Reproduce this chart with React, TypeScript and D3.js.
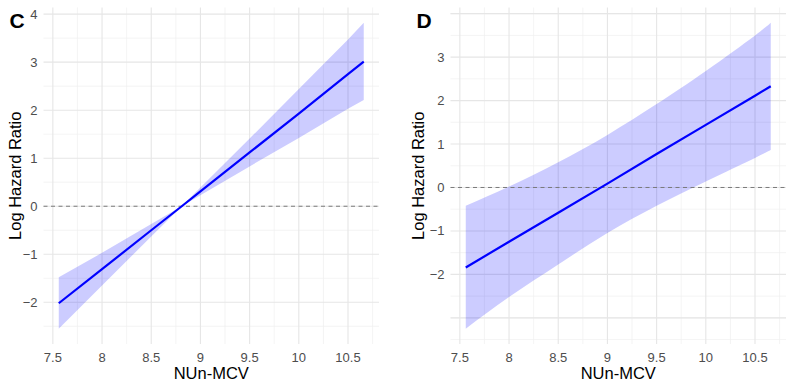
import React from "react";
import * as d3 from "d3";

// Panel C: log hazard ratio vs NUn-MCV (linear fit with 95% CI)
const nunMcvC = [7.56, 8.0, 8.5, 8.81, 9.0, 9.5, 10.0, 10.5, 10.66];
const fitC = [-2.02, -1.31, -0.5, 0, 0.31, 1.12, 1.93, 2.75, 3.01];
const lowerC = [-2.55, -1.65, -0.63, 0, 0.23, 0.83, 1.42, 2.03, 2.21];
const upperC = [-1.48, -0.97, -0.37, 0, 0.39, 1.41, 2.44, 3.47, 3.82];

// Panel D
const nunMcvD = [7.56, 8.0, 8.5, 9.0, 9.5, 10.0, 10.5, 10.66];
const fitD = [-1.84, -1.25, -0.58, 0.09, 0.77, 1.44, 2.11, 2.33];
const lowerD = [-3.25, -2.52, -1.77, -1.05, -0.42, 0.14, 0.68, 0.86];
const upperD = [-0.42, 0.02, 0.58, 1.21, 1.92, 2.68, 3.5, 3.79];

const xTicks = [7.5, 8, 8.5, 9, 9.5, 10, 10.5];
const xTickLabels = ["7.5", "8", "8.5", "9", "9.5", "10", "10.5"];
const yTicksC = [-2, -1, 0, 1, 2, 3, 4];
const yTicksD = [-2, -1, 0, 1, 2, 3];

const FONT = "'Liberation Sans', Arial, Helvetica, sans-serif";

type PanelProps = {
  tag: string;
  xs: number[];
  fit: number[];
  lo: number[];
  hi: number[];
  yTicks: number[];
  left: number;
  right: number;
  top: number;
  bottom: number;
  tagX: number;
  yTitleX: number;
  smooth: boolean;
};

function expand(ext: [number, number], f = 0.05): [number, number] {
  const d = (ext[1] - ext[0]) * f;
  return [ext[0] - d, ext[1] + d];
}

function Panel(p: PanelProps) {
  const xDom = expand(d3.extent(p.xs) as [number, number]);
  const yDom = expand([d3.min(p.lo) as number, d3.max(p.hi) as number]);
  const x = d3.scaleLinear().domain(xDom).range([p.left, p.right]);
  const y = d3.scaleLinear().domain(yDom).range([p.bottom, p.top]);

  const rows = p.xs.map((v, i) => ({ x: v, f: p.fit[i], l: p.lo[i], h: p.hi[i] }));
  const curve = p.smooth ? d3.curveNatural : d3.curveLinear;
  const area = d3
    .area<(typeof rows)[number]>()
    .x((d) => x(d.x))
    .y0((d) => y(d.l))
    .y1((d) => y(d.h))
    .curve(curve);
  const line = d3
    .line<(typeof rows)[number]>()
    .x((d) => x(d.x))
    .y((d) => y(d.f));

  // minor grid: halfway between major breaks, extended one step beyond
  const xMinor = d3.range(7.25, 11.0, 0.5).filter((v) => v >= xDom[0] && v <= xDom[1]);
  const yMinor = d3.range(-3.5, 5.0, 0.5).filter(
    (v) => v >= yDom[0] && v <= yDom[1] && !p.yTicks.includes(v)
  );
  const yMajorAll = d3.range(-4, 6, 1).filter((v) => v >= yDom[0] && v <= yDom[1]);

  return (
    <g>
      {/* grid */}
      {xMinor.map((v) => (
        <line key={"xm" + v} x1={x(v)} x2={x(v)} y1={p.top} y2={p.bottom} stroke="#efefef" strokeWidth={0.7} />
      ))}
      {yMinor.map((v) => (
        <line key={"ym" + v} x1={p.left} x2={p.right} y1={y(v)} y2={y(v)} stroke="#efefef" strokeWidth={0.7} />
      ))}
      {xTicks.map((v) => (
        <line key={"xM" + v} x1={x(v)} x2={x(v)} y1={p.top} y2={p.bottom} stroke="#e6e6e6" strokeWidth={1.1} />
      ))}
      {yMajorAll.map((v) => (
        <line key={"yM" + v} x1={p.left} x2={p.right} y1={y(v)} y2={y(v)} stroke="#e6e6e6" strokeWidth={1.1} />
      ))}

      {/* confidence band and fit */}
      <path d={area(rows) || ""} fill="#0000ff" fillOpacity={0.2} />
      <line x1={p.left} x2={p.right} y1={y(0)} y2={y(0)} stroke="#7a7a7a" strokeWidth={1} strokeDasharray="4,3.5" />
      <path d={line(rows) || ""} fill="none" stroke="#0000ff" strokeWidth={2.2} />

      {/* axis labels */}
      {xTicks.map((v, i) => (
        <text key={"xt" + v} x={x(v)} y={362} textAnchor="middle" fontSize={13} fill="#4d4d4d" fontFamily={FONT}>
          {xTickLabels[i]}
        </text>
      ))}
      {p.yTicks.map((v) => (
        <text key={"yt" + v} x={p.left - 6} y={y(v) + 4.5} textAnchor="end" fontSize={13} fill="#4d4d4d" fontFamily={FONT}>
          {v < 0 ? "\u2212" + Math.abs(v) : String(v)}
        </text>
      ))}
      <text x={(p.left + p.right) / 2} y={379} textAnchor="middle" fontSize={16.5} fill="#000" fontFamily={FONT}>
        NUn-MCV
      </text>
      <text
        transform={`translate(${p.yTitleX},${(p.top + p.bottom) / 2}) rotate(-90)`}
        textAnchor="middle"
        fontSize={16.5}
        fill="#000"
        fontFamily={FONT}
      >
        Log Hazard Ratio
      </text>
      <text x={p.tagX} y={28} fontSize={21} fontWeight="bold" fill="#000" fontFamily={FONT}>
        {p.tag}
      </text>
    </g>
  );
}

export default function App() {
  return (
    <svg
      width={797}
      height={387}
      viewBox="0 0 797 387"
      style={{ position: "absolute", left: 0, top: 0, background: "#fff" }}
    >
      <rect width={797} height={387} fill="#fff" />
      <Panel
        tag="C"
        xs={nunMcvC}
        fit={fitC}
        lo={lowerC}
        hi={upperC}
        yTicks={yTicksC}
        left={43.5}
        right={379}
        top={7.5}
        bottom={344}
        tagX={9.5}
        yTitleX={21}
        smooth={false}
      />
      <Panel
        tag="D"
        xs={nunMcvD}
        fit={fitD}
        lo={lowerD}
        hi={upperD}
        yTicks={yTicksD}
        left={450.5}
        right={786}
        top={7.5}
        bottom={344}
        tagX={416.5}
        yTitleX={424}
        smooth={true}
      />
    </svg>
  );
}
